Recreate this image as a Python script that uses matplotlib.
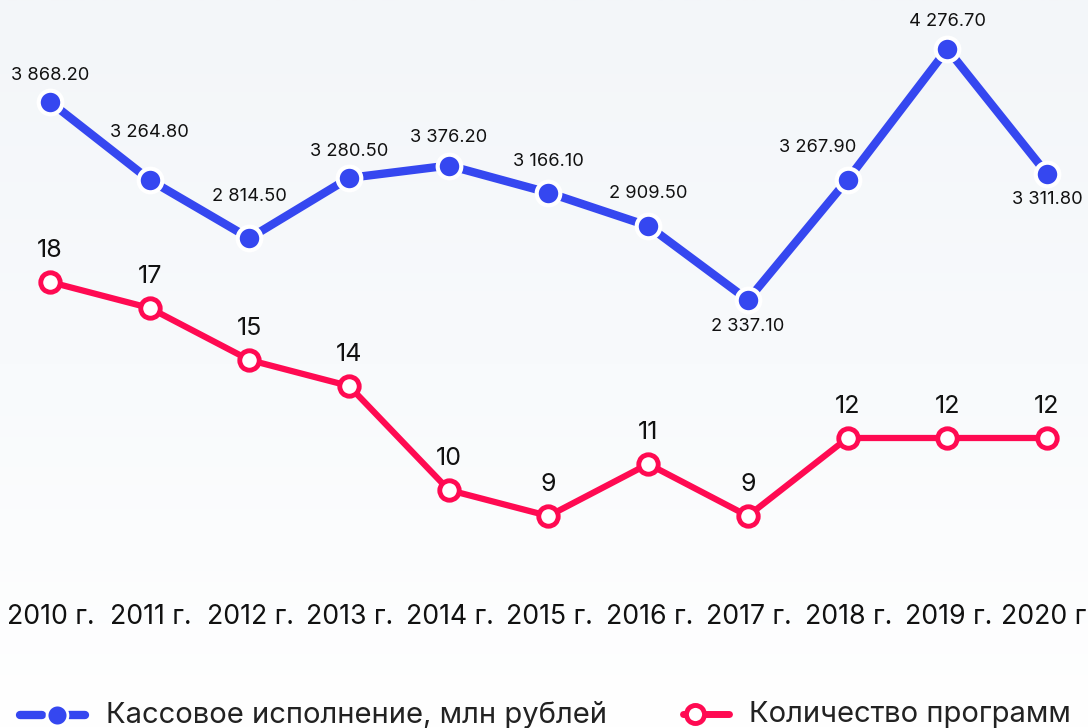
import matplotlib
matplotlib.use("Agg")
import matplotlib.pyplot as plt
import matplotlib.transforms as mtransforms
from matplotlib.lines import Line2D
from matplotlib.colors import LinearSegmentedColormap
import numpy as np

plt.rcParams['font.family'] = ['Inter', 'DejaVu Sans']

years = ["2010 г.", "2011 г.", "2012 г.", "2013 г.", "2014 г.", "2015 г.",
         "2016 г.", "2017 г.", "2018 г.", "2019 г.", "2020 г."]
cash = [3868.20, 3264.80, 2814.50, 3280.50, 3376.20, 3166.10,
        2909.50, 2337.10, 3267.90, 4276.70, 3311.80]
programs = [18, 17, 15, 14, 10, 9, 11, 9, 12, 12, 12]
cash_name = "Кассовое исполнение, млн рублей"
prog_name = "Количество программ"

BLUE = "#3547F0"
RED = "#FF0A52"
TXT = "#111111"

W, H, DPI = 1088, 728, 100
fig = plt.figure(figsize=(W / DPI, H / DPI), dpi=DPI)

# background gradient
bg = fig.add_axes([0, 0, 1, 1], zorder=-10)
grad = np.linspace(0, 1, 256).reshape(-1, 1)
cmap = LinearSegmentedColormap.from_list("bg", ["#F3F6F9", "#F8FAFC", "#FFFFFF"])
bg.imshow(grad, aspect="auto", cmap=cmap, extent=[0, 1, 0, 1], origin="upper")
bg.axis("off")

x = np.arange(len(years))
xl = (-50 / 99.7, (W - 50) / 99.7)

ax_b = fig.add_axes([0, 0, 1, 1])
ax_b.set_xlim(*xl)
ax_b.set_ylim(-970.2, 4655.3)
ax_b.axis("off")
ax_b.patch.set_alpha(0)

ax_r = fig.add_axes([0, 0, 1, 1])
ax_r.set_xlim(*xl)
ax_r.set_ylim(0.846, 28.846)
ax_r.axis("off")
ax_r.patch.set_alpha(0)

ax_b.plot(x, cash, color=BLUE, lw=6, solid_capstyle="round", zorder=2)
ax_b.plot(x, cash, ls="none", marker="o", ms=17, mfc=BLUE, mec="white",
          mew=3, zorder=3)

ax_r.plot(x, programs, color=RED, lw=4.5, zorder=2)
ax_r.plot(x, programs, ls="none", marker="o", ms=14, mfc="white", mec=RED,
          mew=3.5, zorder=3)

def fmt(v):
    return f"{v:,.2f}".replace(",", " ")

# label offsets in pixels (dx, dy)
b_off = [(0, 26), (0, 47), (0, 42), (0, 26), (0, 28), (0, 31),
         (0, 32), (0, -27), (-30, 32), (0, 27), (0, -26)]
for i, v in enumerate(cash):
    dx, dy = b_off[i]
    ax_b.annotate(fmt(v), (x[i], v), xytext=(dx * 72 / DPI, dy * 72 / DPI),
                  textcoords="offset points", ha="center", va="center",
                  fontsize=13.2, color=TXT, zorder=5)

for i, v in enumerate(programs):
    ax_r.annotate(str(v), (x[i], v), xytext=(0, 31 * 72 / DPI),
                  textcoords="offset points", ha="center", va="center",
                  fontsize=18, color=TXT, zorder=5)

trans = mtransforms.blended_transform_factory(ax_r.transData, fig.transFigure)
for i, lab in enumerate(years):
    ax_r.text(x[i] + 0.01, 1 - 617 / H, lab, transform=trans, ha="center",
              va="center", fontsize=19.2, color=TXT)

# legend
def fx(px):
    return px / W
def fy(py):
    return 1 - py / H

ly = 715
fig.add_artist(Line2D([fx(20), fx(42)], [fy(ly), fy(ly)], color=BLUE, lw=6,
                      solid_capstyle="round"))
fig.add_artist(Line2D([fx(69), fx(85)], [fy(ly), fy(ly)], color=BLUE, lw=6,
                      solid_capstyle="round"))
fig.add_artist(Line2D([fx(57)], [fy(ly)], marker="o", ms=15, mfc=BLUE,
                      mec="white", mew=2, ls="none"))
fig.text(fx(106), fy(ly), cash_name, ha="left", va="center", fontsize=21,
         color="#222222")

ry = 714
fig.add_artist(Line2D([fx(683), fx(729)], [fy(ry), fy(ry)], color=RED, lw=5,
                      solid_capstyle="round"))
fig.add_artist(Line2D([fx(695)], [fy(ry)], marker="o", ms=13, mfc="white",
                      mec=RED, mew=3.5, ls="none"))
fig.text(fx(749), fy(ry), prog_name, ha="left", va="center", fontsize=21,
         color="#222222")

fig.savefig("out.png", dpi=DPI)
